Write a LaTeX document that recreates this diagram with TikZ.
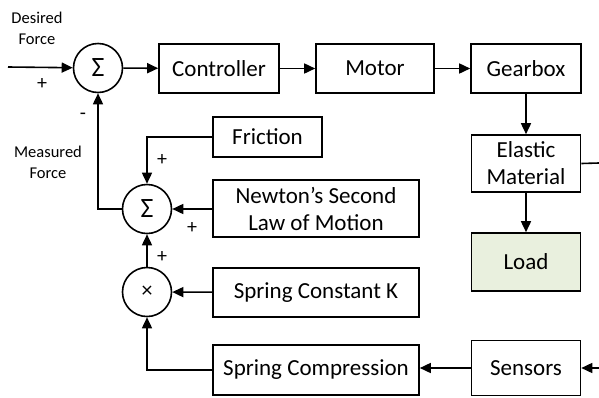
\documentclass[tikz,border=0pt]{standalone}
\usepackage{fontspec}
\setmainfont{Carlito}
\usetikzlibrary{arrows.meta}
\definecolor{loadfill}{HTML}{E9F0DE}
\tikzset{
  blk/.style={draw, line width=1.6pt, inner sep=0pt, align=center,
    font=\fontsize{23}{27}\selectfont},
  junc/.style={draw, circle, line width=1.6pt, inner sep=0pt, minimum size=49pt},
  wire/.style={line width=1.6pt},
  flow/.style={wire, -{Triangle[length=11pt,width=10pt]}},
  sign/.style={font=\fontsize{20}{22}\selectfont, inner sep=0pt},
  note/.style={font=\fontsize{16.5}{21}\selectfont, align=center, inner sep=0pt}
}
\begin{document}
\begin{tikzpicture}[x=1pt, y=-1pt]
\useasboundingbox (0,0) rectangle (599,397);

% summing junctions and multiplier
\node[junc, font=\fontsize{28}{30}\selectfont] (sum1) at (98,68) {Σ};
\node[junc, font=\fontsize{28}{30}\selectfont] (sum2) at (147,209) {Σ};
\node[junc, font=\fontsize{22}{26}\selectfont] (mult) at (147,292) {×};

% forward path
\node[blk, minimum width=120pt, minimum height=49pt] (ctrl) at (219,68.5) {Controller};
\node[blk, minimum width=118pt, minimum height=49pt] (motor) at (375,68.5) {Motor};
\node[blk, minimum width=110pt, minimum height=49pt] (gear) at (526,68.5) {Gearbox};
\node[blk, minimum width=109pt, minimum height=57pt] (elastic) at (526,163.5) {Elastic\\Material};
\node[blk, fill=loadfill, minimum width=109pt, minimum height=58pt] (load) at (526,262) {Load};
\node[blk, minimum width=109pt, minimum height=55pt] (sens) at (526,368) {Sensors};

% force model blocks
\node[blk, minimum width=109pt, minimum height=40pt] (fric) at (267.5,137) {Friction};
\node[blk, minimum width=206pt, minimum height=57pt] (newton) at (316,208.5) {Newton’s Second\\Law of Motion};
\node[blk, minimum width=206pt, minimum height=49pt] (springk) at (316,292.5) {Spring Constant K};
\node[blk, minimum width=206pt, minimum height=50pt] (springc) at (316,370) {Spring Compression};

% free ends at the right border
\coordinate (src) at (8,67);
\coordinate (eOut) at (599,163);
\coordinate (sIn) at (599,368);

% labels
\node[note] at (37,28) {Desired\\Force};
\node[note] at (48,162) {Measured\\Force};
\node[sign] at (42,84) {+};
\node[sign] at (83,116) {-};
\node[sign] at (162,160) {+};
\node[sign] at (192,228) {+};
\node[sign] at (162,257) {+};

% connectors
\draw[flow] (src) -- (sum1);
\draw[flow] (sum1) -- (ctrl);
\draw[flow] (ctrl) -- (motor);
\draw[flow] (motor) -- (gear);
\draw[flow] (gear) -- (elastic);
\draw[flow] (elastic) -- (load);
\draw[wire] (elastic.east) -- (eOut);
\draw[flow] (sIn) -- (sens.east);
\draw[flow] (sens.west) -- (springc.east |- sens.west);
\draw[flow] (springc.west) -| (mult.south);
\draw[flow] (springk) -- (mult);
\draw[flow] (mult) -- (sum2);
\draw[flow] (newton.west |- sum2) -- (sum2);
\draw[flow] (fric.west) -| (sum2.north);
\draw[flow] (sum2.west) -| (sum1.south);
\end{tikzpicture}
\end{document}
